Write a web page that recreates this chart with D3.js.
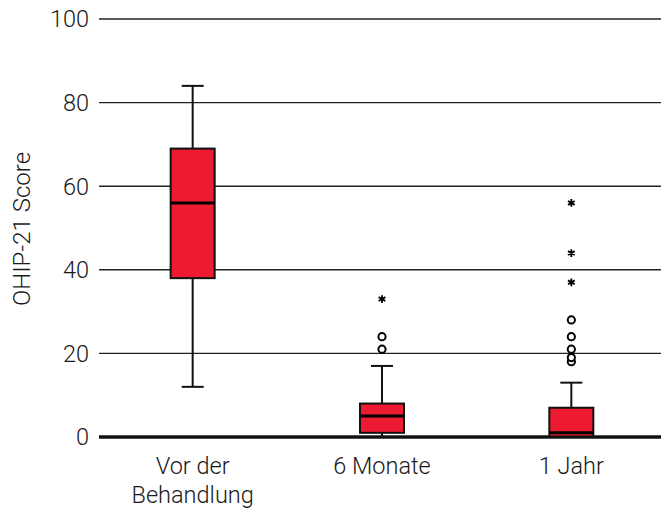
<!DOCTYPE html>
<html>
<head>
<meta charset="utf-8">
<script src="https://cdn.jsdelivr.net/npm/d3@7"></script>
<style>
  body { margin: 0; background: #fff; }
  text { font-family: Roboto, "Liberation Sans", sans-serif; font-weight: 300; fill: #1a1a1a; }
</style>
</head>
<body>
<svg id="chart" width="661" height="510"></svg>
<script>
// groups and box statistics
const categories = [["Vor der", "Behandlung"], ["6 Monate"], ["1 Jahr"]];
const whiskerLow = [12, 0, 0];
const q1 = [38, 1, 0];
const median = [56, 5, 1];
const q3 = [69, 8, 7];
const whiskerHigh = [84, 17, 13];
const outliers = [[], [21, 24], [18, 19, 21, 24, 28]];
const extremes = [[], [33], [37, 44, 56]];
const yTicks = [0, 20, 40, 60, 80, 100];

const svg = d3.select("#chart");
const plotLeft = 99, plotRight = 661, plotTop = 19, plotBottom = 437;

const x = d3.scaleBand().domain(d3.range(categories.length)).range([98, 666]).paddingInner(0.5).paddingOuter(0.25);
const y = d3.scaleLinear().domain([0, 100]).range([plotBottom, plotTop]);
const bw = 44;

// grid + tick labels
const grid = svg.append("g");
grid.selectAll("line").data(yTicks).enter().append("line")
  .attr("x1", plotLeft).attr("x2", plotRight)
  .attr("y1", d => y(d)).attr("y2", d => y(d))
  .attr("stroke", "#222").attr("stroke-width", d => d === 0 ? 3 : 1.4);
grid.selectAll("text").data(yTicks).enter().append("text")
  .attr("x", 89).attr("y", d => y(d)).attr("dy", "0.36em")
  .attr("text-anchor", "end").attr("font-size", 23.5).text(d => d);

svg.append("text")
  .attr("transform", "translate(30," + 229 + ") rotate(-90)")
  .attr("text-anchor", "middle").attr("font-size", 24)
  .text("OHIP-21 Score");

const cx = i => x(i) + x.bandwidth() / 2;

const g = svg.selectAll(".box").data(categories).enter().append("g").attr("class", "box");

// whiskers
g.append("line")
  .attr("x1", (d, i) => cx(i)).attr("x2", (d, i) => cx(i))
  .attr("y1", (d, i) => y(whiskerLow[i])).attr("y2", (d, i) => y(whiskerHigh[i]))
  .attr("stroke", "#111").attr("stroke-width", 2);
g.append("line")
  .attr("x1", (d, i) => cx(i) - 11).attr("x2", (d, i) => cx(i) + 11)
  .attr("y1", (d, i) => y(whiskerHigh[i])).attr("y2", (d, i) => y(whiskerHigh[i]))
  .attr("stroke", "#111").attr("stroke-width", 2);
g.append("line")
  .attr("x1", (d, i) => cx(i) - 11).attr("x2", (d, i) => cx(i) + 11)
  .attr("y1", (d, i) => y(whiskerLow[i])).attr("y2", (d, i) => y(whiskerLow[i]))
  .attr("stroke", "#111").attr("stroke-width", 2);

// boxes
g.append("rect")
  .attr("x", (d, i) => cx(i) - bw / 2).attr("width", bw)
  .attr("y", (d, i) => y(q3[i])).attr("height", (d, i) => y(q1[i]) - y(q3[i]))
  .attr("fill", "#ed1b32").attr("stroke", "#111").attr("stroke-width", 2);
g.append("line")
  .attr("x1", (d, i) => cx(i) - bw / 2).attr("x2", (d, i) => cx(i) + bw / 2)
  .attr("y1", (d, i) => y(median[i])).attr("y2", (d, i) => y(median[i]))
  .attr("stroke", "#000").attr("stroke-width", 3);

// outliers
g.each(function (d, i) {
  const sel = d3.select(this);
  sel.selectAll("circle").data(outliers[i]).enter().append("circle")
    .attr("cx", cx(i)).attr("cy", v => y(v)).attr("r", 3.6)
    .attr("fill", "#fff").attr("stroke", "#000").attr("stroke-width", 2);
  sel.selectAll("path.star").data(extremes[i]).enter().append("path")
    .attr("class", "star")
    .attr("transform", v => "translate(" + cx(i) + "," + y(v) + ")")
    .attr("d", d3.symbol().type(d3.symbolAsterisk).size(42))
    .attr("stroke", "#000").attr("stroke-width", 1.8).attr("fill", "none");
});

// the zero line sits over the boxes
svg.append("line").attr("x1", plotLeft).attr("x2", plotRight)
  .attr("y1", y(0)).attr("y2", y(0)).attr("stroke", "#111").attr("stroke-width", 3);

// category labels
svg.selectAll(".cat").data(categories).enter().append("text")
  .attr("class", "cat").attr("text-anchor", "middle").attr("font-size", 23.5)
  .attr("x", (d, i) => cx(i)).attr("y", 474)
  .selectAll("tspan").data(d => d).enter().append("tspan")
  .attr("x", function () { return d3.select(this.parentNode).attr("x"); })
  .attr("dy", (d, j) => j === 0 ? 0 : 29).text(d => d);
</script>
</body>
</html>
